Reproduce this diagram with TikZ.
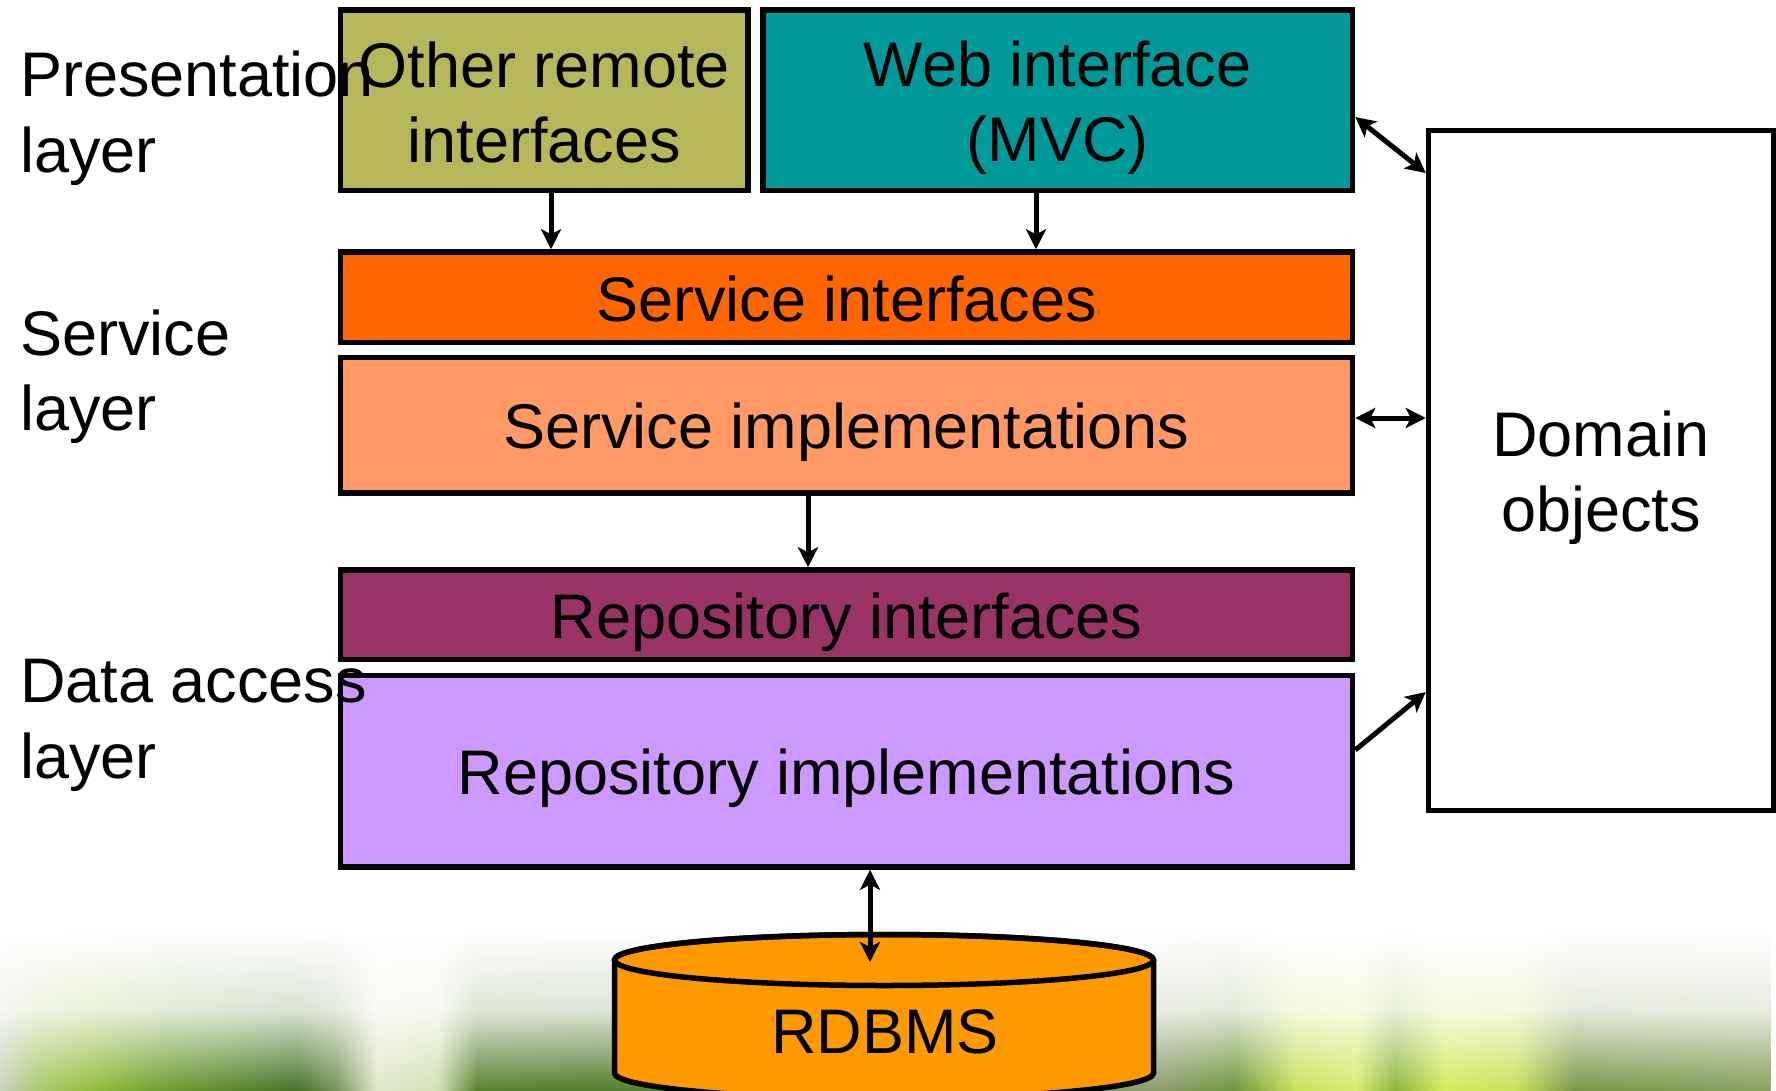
\documentclass[tikz,border=0pt]{standalone}
\usepackage{fontspec}
\setmainfont{Liberation Sans}
\usetikzlibrary{arrows.meta,calc,fadings}

\definecolor{cOther}{RGB}{182,182,90}
\definecolor{cWeb}{RGB}{0,153,153}
\definecolor{cSI}{RGB}{255,102,0}
\definecolor{cSImp}{RGB}{255,153,102}
\definecolor{cRI}{RGB}{153,51,102}
\definecolor{cRImp}{RGB}{204,153,255}
\definecolor{cDB}{RGB}{255,153,0}

\definecolor{g0}{RGB}{200,210,190}
\definecolor{g1}{RGB}{170,200,110}
\definecolor{g2}{RGB}{150,190,60}
\definecolor{g3}{RGB}{110,160,50}
\definecolor{g4}{RGB}{70,115,40}
\definecolor{g5}{RGB}{120,150,90}
\definecolor{g6}{RGB}{225,232,200}
\definecolor{g7}{RGB}{210,225,180}
\definecolor{g8}{RGB}{90,130,50}
\definecolor{g9}{RGB}{80,125,45}
\definecolor{g10}{RGB}{140,155,110}
\definecolor{g11}{RGB}{110,150,60}
\definecolor{g12}{RGB}{200,225,90}
\definecolor{g13}{RGB}{215,235,110}
\definecolor{g14}{RGB}{140,180,60}
\definecolor{g15}{RGB}{210,235,90}
\definecolor{g16}{RGB}{200,225,90}
\definecolor{g17}{RGB}{120,150,70}
\definecolor{g18}{RGB}{135,160,95}

\pgfdeclarehorizontalshading{grass}{100bp}{color(0bp)=(g0); color(25bp)=(g0);
 color(26.13bp)=(g1); color(27.53bp)=(g2); color(29.5bp)=(g3); color(33.45bp)=(g4);
 color(34.57bp)=(g5); color(35.7bp)=(g6); color(37.39bp)=(g7); color(38.5bp)=(g8);
 color(41.9bp)=(g9); color(57.66bp)=(g10); color(59.9bp)=(g11); color(61.6bp)=(g12);
 color(63.29bp)=(g13); color(64.4bp)=(g14); color(65.8bp)=(g15); color(67.8bp)=(g16);
 color(69.48bp)=(g17); color(75bp)=(g18); color(100bp)=(g18)}

\tikzfading[name=grassfade, top color=transparent!100, bottom color=transparent!0, middle color=transparent!80]

\newcommand\lnstrut{\rule[-0.17em]{0pt}{1.12em}}

\begin{document}
\begin{tikzpicture}[x=1pt, y=-1pt,
  txt/.style={font=\fontsize{63}{75}\selectfont, align=center},
  box/.style={txt, draw=black, line width=5.5pt, inner sep=0pt},
  lbl/.style={font=\fontsize{63}{75}\selectfont, inner sep=0pt, anchor=base west},
  conn/.style={line width=5pt, -{Stealth[length=20pt,width=20pt,inset=5pt]}},
  dconn/.style={line width=5pt, {Stealth[length=20pt,width=20pt,inset=5pt]}-{Stealth[length=20pt,width=20pt,inset=5pt]}}
]
\path[use as bounding box, clip] (0,0) rectangle (1776,1091);
\fill[white] (0,0) rectangle (1776,1091);

% grass background
\path[shading=grass, path fading=grassfade] (0,930) rectangle (1776,1091);

% boxes
\node[box, fill=cOther, minimum width=407.5pt, minimum height=180.5pt] (OR) at (544.25,100.25)
  {\lnstrut Other remote\\\lnstrut interfaces};
\node[box, fill=cWeb, minimum width=589.5pt, minimum height=180.5pt] (Web) at (1057.75,100.25)
  {\lnstrut Web interface\\\lnstrut (MVC)};
\node[box, fill=cSI, minimum width=1012pt, minimum height=90.5pt] (SI) at (846.5,297.25)
  {\lnstrut Service interfaces};
\node[box, fill=cSImp, minimum width=1012pt, minimum height=135.5pt] (SImp) at (846.5,425.25)
  {\lnstrut Service implementations};
\node[box, fill=cRI, minimum width=1012pt, minimum height=89.5pt] (RI) at (846.5,614.75)
  {\lnstrut Repository interfaces};
\node[box, fill=cRImp, minimum width=1012pt, minimum height=191.5pt] (RImp) at (846.5,771.25)
  {\lnstrut Repository implementations};
\node[box, fill=white, minimum width=345pt, minimum height=680pt] (Domain) at (1601,470.5)
  {\lnstrut Domain\\\lnstrut objects};

% database cylinder
\draw[line width=5.5pt, fill=cDB] (614.5,960) -- (614.5,1073)
  arc[start angle=180, end angle=0, x radius=269.5, y radius=25.5]
  -- (1153.5,960)
  arc[start angle=0, end angle=-180, x radius=269.5, y radius=25.5] -- cycle;
\draw[line width=5.5pt] (884,960) ellipse[x radius=269.5, y radius=25.5];
\node[txt, inner sep=0pt, anchor=base] (db) at (885,1053) {RDBMS};
\coordinate (dbtop) at (870,962);

% connectors
\draw[conn] (OR.south -| 551,0) -- (SI.north -| 551,0);
\draw[conn] (Web.south -| 1036,0) -- (SI.north -| 1036,0);
\draw[dconn] (Web.east |- 0,117) -- (Domain.west |- 0,173);
\draw[dconn] (SImp.east |- 0,418) -- (Domain.west |- 0,418);
\draw[conn] (SImp.south -| 808,0) -- (RI.north -| 808,0);
\draw[conn] (RImp.east |- 0,750) -- (Domain.west |- 0,692);
\draw[dconn] (RImp.south -| 870,0) -- (dbtop);

% layer labels
\node[lbl] (lp1) at (20,97) {Presentation};
\node[lbl] (lp2) at (20,173) {layer};
\node[lbl] (ls1) at (20,355) {Service};
\node[lbl] (ls2) at (20,430) {layer};
\node[lbl] (ld1) at (20,702) {Data access};
\node[lbl] (ld2) at (20,778) {layer};
\end{tikzpicture}
\end{document}
